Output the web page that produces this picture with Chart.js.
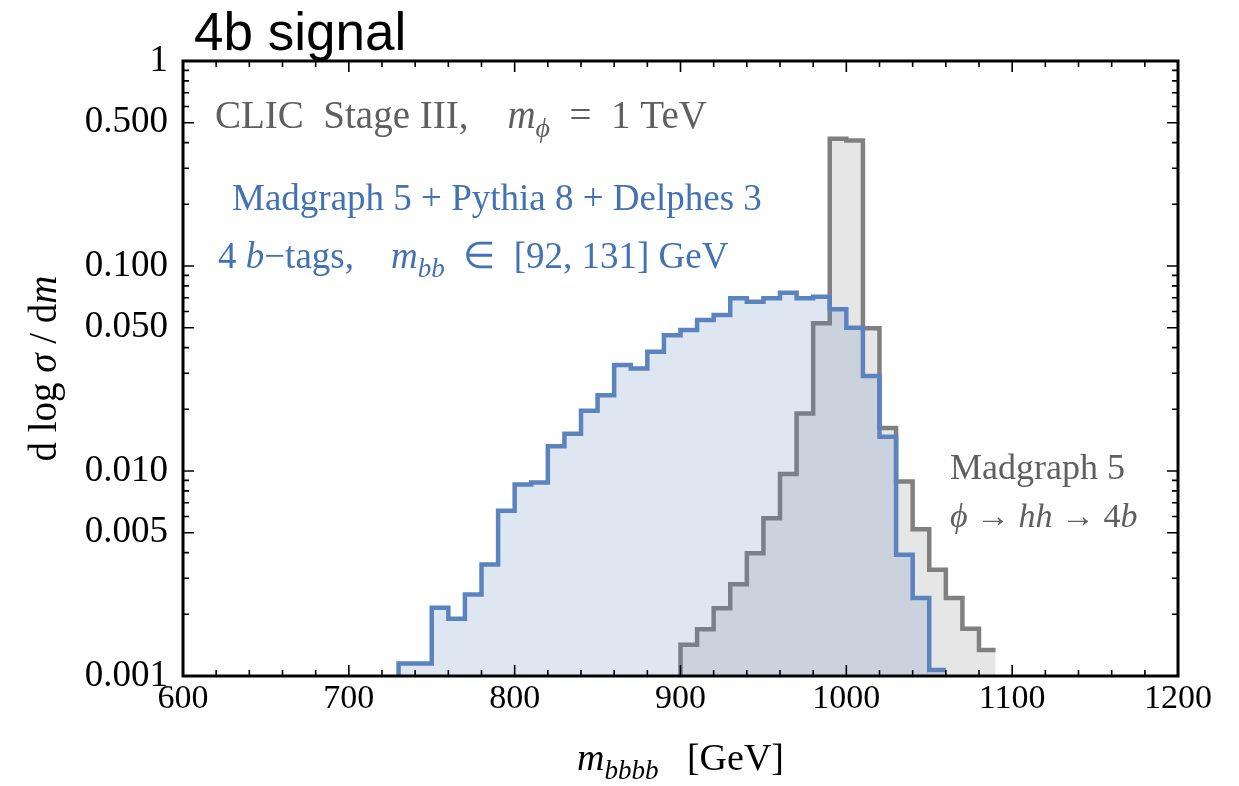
<!DOCTYPE html>
<html>
<head>
<meta charset="utf-8">
<title>4b signal</title>
<script src="https://cdn.jsdelivr.net/npm/chart.js@4.4.1/dist/chart.umd.min.js"></script>
<style>
  body { margin: 0; background: #fff; }
  canvas { display: block; }
</style>
</head>
<body>
<canvas id="histo" width="1239" height="786"></canvas>
<script>
// m_bbbb distributions, 10 GeV bins (lower bin edges)
const BIN_WIDTH = 10;

// Madgraph 5 + Pythia 8 + Delphes 3, 4 b-tags
const delphesBins = [730, 740, 750, 760, 770, 780, 790, 800, 810, 820, 830, 840, 850, 860, 870, 880, 890,
  900, 910, 920, 930, 940, 950, 960, 970, 980, 990, 1000, 1010, 1020, 1030, 1040, 1050];
const delphesValues = [0.00115, 0.00115, 0.00215, 0.0019, 0.0025, 0.0035, 0.0064, 0.0086, 0.0088, 0.0132,
  0.0152, 0.0197, 0.0234, 0.0329, 0.0316, 0.0382, 0.046, 0.0487, 0.0545, 0.0577, 0.0696, 0.067, 0.0696,
  0.0741, 0.0696, 0.0708, 0.0615, 0.05, 0.0291, 0.0147, 0.0039, 0.0024, 0.00107];

// Madgraph 5 parton level, phi -> hh -> 4b
const partonBins = [900, 910, 920, 930, 940, 950, 960, 970, 980, 990, 1000, 1010, 1020, 1030, 1040, 1050,
  1060, 1070, 1080];
const partonValues = [0.00142, 0.00169, 0.00214, 0.0028, 0.00397, 0.00588, 0.00967, 0.0191, 0.0525, 0.417,
  0.409, 0.0497, 0.0162, 0.0089, 0.0052, 0.0033, 0.0024, 0.0017, 0.00134];

const X_MIN = 600, X_MAX = 1200;
const Y_MIN = 0.001, Y_MAX = 1;
const xMajorTicks = [600, 700, 800, 900, 1000, 1100, 1200];
const xTickLabels = ['600', '700', '800', '900', '1000', '1100', '1200'];
const yMajorTicks = [0.001, 0.005, 0.01, 0.05, 0.1, 0.5, 1];
const yTickLabels = ['0.001', '0.005', '0.010', '0.050', '0.100', '0.500', '1'];

// minor ticks: every 20 GeV, and 1..9 in each decade
const xTicks = [];
for (let v = X_MIN; v <= X_MAX; v += 20) xTicks.push(v);
const yTicks = [0.001, 0.01, 0.1].flatMap(d => [1, 2, 3, 4, 5, 6, 7, 8, 9].map(m => +(m * d).toPrecision(3)));
yTicks.push(1);

const SERIF = '"Liberation Serif", "Times New Roman", serif';
const GRAY_TEXT = '#5f5f5f';
const BLUE_TEXT = '#4272b4';

function histPoints(bins, values) {
  const pts = [{ x: bins[0], y: Y_MIN }];
  bins.forEach((b, i) => pts.push({ x: b, y: values[i] }));
  pts.push({ x: bins[bins.length - 1] + BIN_WIDTH, y: values[values.length - 1] });
  return pts;
}

function labelFor(majors, labels, v) {
  const i = majors.findIndex(m => Math.abs(m - v) < m * 1e-6);
  return i >= 0 ? labels[i] : '';
}

function isMajor(majors, v) {
  return majors.some(m => Math.abs(m - v) < m * 1e-6);
}

// text runs: 'r' roman, 'i' italic, 's' italic subscript
function drawRich(ctx, x, y, parts, size, color, align) {
  const fontFor = k => k === 'r' ? `${size}px ${SERIF}`
    : k === 'i' ? `italic ${size}px ${SERIF}`
    : `italic ${Math.round(size * 0.72)}px ${SERIF}`;
  ctx.fillStyle = color;
  ctx.textAlign = 'left';
  ctx.textBaseline = 'alphabetic';
  let w = 0;
  parts.forEach(([t, k]) => { ctx.font = fontFor(k); w += ctx.measureText(t).width; });
  let cx = align === 'center' ? x - w / 2 : x;
  parts.forEach(([t, k]) => {
    ctx.font = fontFor(k);
    ctx.fillText(t, cx, k === 's' ? y + size * 0.24 : y);
    cx += ctx.measureText(t).width;
  });
}

// box frame with ticks pointing inward on all four sides
const frameTicks = {
  id: 'frameTicks',
  afterDatasetsDraw(chart) {
    const { ctx, chartArea: a, scales: { x, y } } = chart;
    ctx.save();
    ctx.strokeStyle = '#000';
    ctx.lineWidth = 1.6;
    ctx.beginPath();
    x.ticks.forEach(t => {
      const px = x.getPixelForValue(t.value);
      const len = isMajor(xMajorTicks, t.value) ? 11 : 6;
      ctx.moveTo(px, a.bottom); ctx.lineTo(px, a.bottom - len);
      ctx.moveTo(px, a.top); ctx.lineTo(px, a.top + len);
    });
    y.ticks.forEach(t => {
      const py = y.getPixelForValue(t.value);
      const len = isMajor(yMajorTicks, t.value) ? 11 : 6;
      ctx.moveTo(a.left, py); ctx.lineTo(a.left + len, py);
      ctx.moveTo(a.right, py); ctx.lineTo(a.right - len, py);
    });
    ctx.stroke();
    ctx.lineWidth = 3;
    ctx.strokeRect(a.left, a.top, a.right - a.left, a.bottom - a.top);
    ctx.restore();
  }
};

const labels = {
  id: 'labels',
  afterDraw(chart) {
    const { ctx, chartArea: a } = chart;
    ctx.save();

    ctx.fillStyle = '#000';
    ctx.font = '53px "Liberation Sans", Arial, sans-serif';
    ctx.textBaseline = 'alphabetic';
    ctx.fillText('4b signal', 194, 50);

    drawRich(ctx, 215, 128, [['CLIC  Stage III,    ', 'r'], ['m', 'i'], ['ϕ', 's'], ['  =  1 TeV', 'r']], 39, GRAY_TEXT);
    drawRich(ctx, 232, 210, [['Madgraph 5 + Pythia 8 + Delphes 3', 'r']], 37, BLUE_TEXT);
    drawRich(ctx, 218, 268, [['4 ', 'r'], ['b', 'i'], ['−tags,    ', 'r'], ['m', 'i'], ['bb', 's'],
      ['  ∈  [92, 131] GeV', 'r']], 37, BLUE_TEXT);
    drawRich(ctx, 950, 479, [['Madgraph 5', 'r']], 36, GRAY_TEXT);
    drawRich(ctx, 950, 527, [['ϕ', 'i'], [' → ', 'r'], ['hh', 'i'], [' → 4', 'r'], ['b', 'i']], 34, GRAY_TEXT);

    // axis titles
    drawRich(ctx, (a.left + a.right) / 2, 770, [['m', 'i'], ['bbbb', 's'], ['   [GeV]', 'r']], 38, '#000', 'center');
    ctx.translate(56, (a.top + a.bottom) / 2);
    ctx.rotate(-Math.PI / 2);
    drawRich(ctx, 0, 0, [['d log ', 'r'], ['σ', 'i'], [' / d', 'r'], ['m', 'i']], 39, '#000', 'center');
    ctx.restore();
  }
};

new Chart(document.getElementById('histo'), {
  type: 'line',
  data: {
    datasets: [
      {
        label: 'Madgraph 5 + Pythia 8 + Delphes 3',
        data: histPoints(delphesBins, delphesValues),
        borderColor: '#5b83bd',
        backgroundColor: 'rgba(91, 131, 189, 0.2)',
        borderWidth: 4.5,
        borderJoinStyle: 'miter',
        stepped: true,
        fill: 'start',
        pointRadius: 0
      },
      {
        label: 'Madgraph 5',
        data: histPoints(partonBins, partonValues),
        borderColor: '#808080',
        backgroundColor: 'rgba(128, 128, 128, 0.2)',
        borderWidth: 4.5,
        borderJoinStyle: 'miter',
        stepped: true,
        fill: 'start',
        pointRadius: 0
      }
    ]
  },
  options: {
    responsive: false,
    animation: false,
    layout: { padding: { top: 61, right: 61, left: 0, bottom: 0 } },
    plugins: {
      legend: { display: false },
      tooltip: { enabled: false }
    },
    scales: {
      x: {
        type: 'linear',
        min: X_MIN,
        max: X_MAX,
        afterBuildTicks: s => { s.ticks = xTicks.map(v => ({ value: v })); },
        afterFit: s => { s.height = 110; },
        grid: { display: false, drawTicks: false },
        border: { display: false },
        ticks: {
          autoSkip: false,
          maxRotation: 0,
          padding: 3,
          color: '#000',
          font: { family: SERIF, size: 34 },
          callback: v => labelFor(xMajorTicks, xTickLabels, v)
        }
      },
      y: {
        type: 'logarithmic',
        min: Y_MIN,
        max: Y_MAX,
        afterBuildTicks: s => { s.ticks = yTicks.map(v => ({ value: v })); },
        afterFit: s => { s.width = 183; },
        grid: { display: false, drawTicks: false },
        border: { display: false },
        ticks: {
          autoSkip: false,
          padding: 15,
          color: '#000',
          font: { family: SERIF, size: 37 },
          callback: v => labelFor(yMajorTicks, yTickLabels, v)
        }
      }
    }
  },
  plugins: [frameTicks, labels]
});
</script>
</body>
</html>
